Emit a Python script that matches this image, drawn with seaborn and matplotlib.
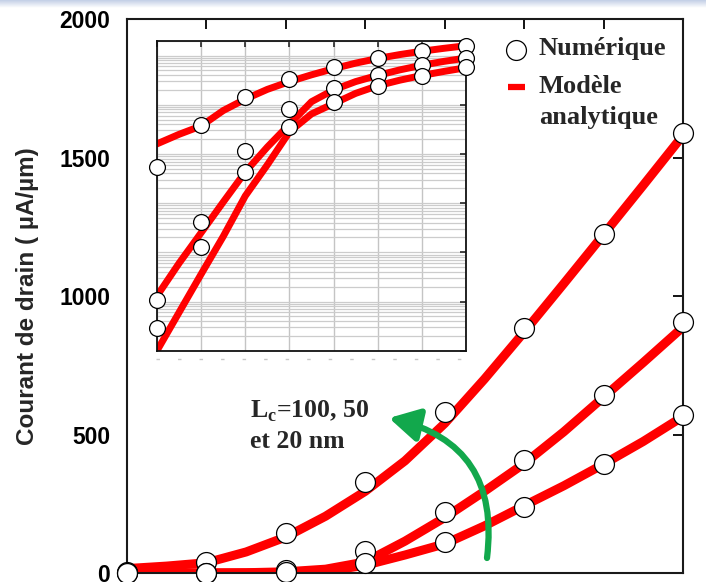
import numpy as np
import pandas as pd
import matplotlib
matplotlib.use("Agg")
import matplotlib.pyplot as plt
import seaborn as sns
from matplotlib.lines import Line2D
from matplotlib.ticker import LogLocator, NullFormatter

# ---------- DATA ----------
vg = [0.0, 0.1, 0.2, 0.3, 0.4, 0.5, 0.6, 0.7]
vg_model = [0.0, 0.05, 0.1, 0.15, 0.2, 0.25, 0.3, 0.35,
            0.4, 0.45, 0.5, 0.55, 0.6, 0.65, 0.7]

# numeric points (uA/um)
num_20 = [5.4, 38, 143, 330, 582, 886, 1225, 1590]
num_50 = [0.0107, 0.42, 11.4, 80, 219, 408, 642, 905]
num_100 = [0.0029, 0.128, 4.3, 35, 113, 239, 392, 572]

# analytic model (uA/um)
mod_20 = [16, 25, 37, 76, 130, 205, 295, 405, 540, 700, 870, 1045, 1222, 1400, 1580]
mod_50 = [0.013, 0.06, 0.25, 1.05, 4.3, 13.8, 40, 115, 200, 295, 395, 510, 635, 760, 888]
mod_100 = [0.001, 0.006, 0.036, 0.21, 1.4, 6, 28, 65, 105, 170, 243, 315, 393, 475, 565]

lc_names = ["20 nm", "50 nm", "100 nm"]
yticks = [0, 500, 1000, 1500, 2000]

num_df = pd.DataFrame({
    "vg": vg * 3,
    "id": num_20 + num_50 + num_100,
    "lc": [n for n in lc_names for _ in vg],
})
mod_df = pd.DataFrame({
    "vg": vg_model * 3,
    "id": mod_20 + mod_50 + mod_100,
    "lc": [n for n in lc_names for _ in vg_model],
})

RED = "#ff0000"
GREEN = "#12a84c"
red_pal = {n: RED for n in lc_names}

sns.set_theme(style="white")
plt.rcParams["font.family"] = ["Liberation Sans", "DejaVu Sans"]

fig = plt.figure(figsize=(7.06, 5.82), dpi=100)

# ---------- top band (slide header remnant) ----------
band = fig.add_axes([0, 1 - 8 / 582, 1, 8 / 582])
grad = np.linspace(0, 1, 20).reshape(-1, 1)
band.imshow(grad, aspect="auto", cmap=matplotlib.colors.LinearSegmentedColormap.from_list(
    "b", ["#c3cfe6", "#ffffff"]))
band.axis("off")

# ---------- MAIN AXES ----------
ax = fig.add_axes([127 / 706, 9 / 582, 556 / 706, 554 / 582])
sns.lineplot(data=mod_df, x="vg", y="id", hue="lc", palette=red_pal,
             estimator=None, sort=False, lw=6.5, legend=False, ax=ax, zorder=2)
sns.scatterplot(data=num_df, x="vg", y="id", s=205, color="white",
                edgecolor="black", linewidth=0.9, legend=False, ax=ax, zorder=3)
for c in ax.collections:
    c.set_clip_on(False)

ax.set_xlim(0, 0.7)
ax.set_ylim(0, 2000)
ax.set_xticks(vg)
ax.set_yticks(yticks)
ax.set_yticklabels([str(t) for t in yticks], fontsize=16.5, fontweight="bold")
ax.tick_params(direction="in", length=7, width=1.3, top=True, right=True,
               labelbottom=False, pad=12, colors="black")
ax.set_xlabel("")
ax.set_ylabel("Courant de drain ( µA/µm)", fontsize=17.5, fontweight="bold")
ax.yaxis.set_label_coords(-0.158, 0.5)
for s in ax.spines.values():
    s.set_color("#1a1a1a")
    s.set_linewidth(1.5)

# legend drawn by hand to keep the red bar on the first text line
serif = dict(family=["Liberation Serif", "DejaVu Serif"], weight="bold", size=19)
ax.scatter([0.6996], [0.944], s=205, color="white", edgecolor="black",
           linewidth=0.9, transform=ax.transAxes, zorder=5)
ax.plot([0.685, 0.716], [0.877, 0.877], color=RED, lw=4.5,
        transform=ax.transAxes, solid_capstyle="butt")
ax.text(0.741, 0.935, "Numérique", fontdict=serif, transform=ax.transAxes, va="baseline")
ax.text(0.741, 0.866, "Modèle", fontdict=serif, transform=ax.transAxes, va="baseline")
ax.text(0.741, 0.810, "analytique", fontdict=serif, transform=ax.transAxes, va="baseline")

# annotation + green arrow
serif_a = dict(serif, size=18.5)
ax.text(0.155, 560, r"L$_\mathregular{c}$=100, 50", fontdict=serif_a, va="baseline")
ax.text(0.155, 451, "et 20 nm", fontdict=serif_a, va="baseline")
ax.annotate("", xy=(389, 582 - 418), xytext=(487, 582 - 558),
            xycoords="figure pixels", textcoords="figure pixels",
            arrowprops=dict(arrowstyle="-|>,head_length=0.9,head_width=0.5",
                            connectionstyle="arc3,rad=0.45", color=GREEN,
                            lw=4.5, mutation_scale=20, shrinkA=0, shrinkB=0))

# ---------- INSET (log scale) ----------
ax_in = fig.add_axes([157 / 706, (582 - 350.7) / 582, 309 / 706, 310 / 582])
ax_in.set_yscale("log")
sns.lineplot(data=mod_df, x="vg", y="id", hue="lc", palette=red_pal,
             estimator=None, sort=False, lw=5, legend=False, ax=ax_in, zorder=2)
sns.scatterplot(data=num_df, x="vg", y="id", s=130, color="white",
                edgecolor="black", linewidth=0.9, legend=False, ax=ax_in, zorder=3)
for c in ax_in.collections:
    c.set_clip_on(False)
ax_in.set_xlim(0, 0.7)
ax_in.set_ylim(1e-3, 2000)
ax_in.set_xticks(vg)
ax_in.set_yticks([1e-3, 1e-2, 1e-1, 1, 10, 100, 1000])
ax_in.yaxis.set_minor_locator(LogLocator(base=10, subs=range(2, 10), numticks=30))
ax_in.yaxis.set_minor_formatter(NullFormatter())
ax_in.set_axisbelow(True)
ax_in.grid(True, which="both", axis="y", color="#cccccc", lw=0.9)
ax_in.grid(True, which="major", axis="x", color="#c4c4c4", lw=1.0)
ax_in.tick_params(which="major", direction="in", length=4, width=1.2, top=True,
                  right=True, labelbottom=False, labelleft=False)
ax_in.tick_params(which="minor", length=0)
ax_in.set_xlabel("")
ax_in.set_ylabel("")
for s in ax_in.spines.values():
    s.set_color("#111111")
    s.set_linewidth(1.3)

# faint remnants of inset tick labels
fig.add_artist(Line2D([156 / 706, 478 / 706], [(582 - 359) / 582] * 2,
                      transform=fig.transFigure, color="#c8c8c8", lw=1,
                      dashes=(2.5, 13)))

fig.savefig("out.png", dpi=100)
